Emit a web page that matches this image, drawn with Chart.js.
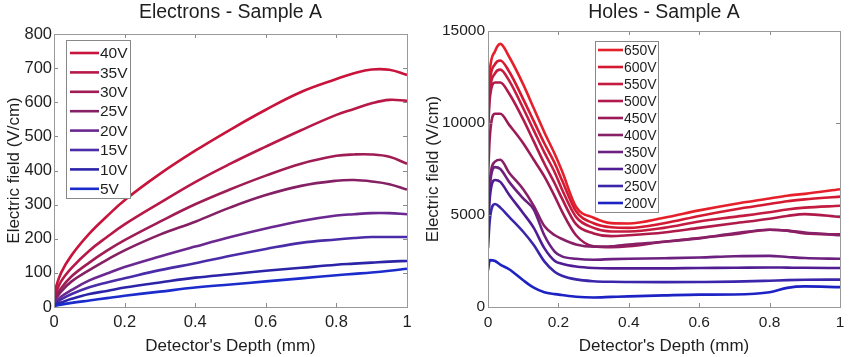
<!DOCTYPE html>
<html>
<head>
<meta charset="utf-8">
<script src="https://cdn.jsdelivr.net/npm/chart.js@4.4.1/dist/chart.umd.min.js"></script>
<style>
  html, body { margin: 0; padding: 0; background: #fff; }
  #wrap { position: relative; width: 850px; height: 357px; }
  .panel { position: absolute; top: 0; width: 425px; height: 357px; }
</style>
</head>
<body>
<div id="wrap">
  <div class="panel" style="left:0"><canvas id="c1" width="425" height="357"></canvas></div>
  <div class="panel" style="left:425px"><canvas id="c2" width="425" height="357"></canvas></div>
</div>
<script>
// ---------- Electrons - Sample A ----------
const elecTitle = "Electrons - Sample A";
const elecDepth = [0, 0.02, 0.05, 0.1, 0.15, 0.2, 0.3, 0.4, 0.5, 0.6, 0.7, 0.8, 0.85, 0.9, 0.95, 1.0];
const elecLabels = ["40V", "35V", "30V", "25V", "20V", "15V", "10V", "5V"];
const e40 = [40, 100, 152, 215, 266, 313, 390, 458, 520, 578, 630, 668, 685, 696, 695, 680];
const e35 = [28, 75, 115, 165, 205, 242, 305, 366, 420, 470, 518, 563, 580, 597, 607, 604];
const e30 = [22, 55, 90, 130, 165, 196, 250, 301, 345, 385, 420, 443, 447, 447, 440, 420];
const e25 = [16, 45, 75, 108, 138, 166, 212, 250, 292, 328, 355, 370, 372, 368, 360, 344];
const e20 = [10, 30, 50, 78, 98, 117, 148, 177, 205, 230, 252, 268, 272, 275, 275, 272];
const e15 = [8, 22, 38, 58, 72, 84, 108, 128, 150, 170, 188, 198, 202, 205, 205, 205];
const e10 = [5, 13, 24, 38, 47, 57, 72, 86, 96, 106, 115, 124, 127, 130, 133, 135];
const e5  = [3, 7, 12, 19, 26, 33, 45, 57, 66, 75, 84, 93, 97, 101, 106, 112];
const elecSeries = [e40, e35, e30, e25, e20, e15, e10, e5];
const elecColors = ["#c8143c", "#b81848", "#a01c55", "#862064", "#6a2890", "#4a2ca8", "#2c24a8", "#1c2ccc"];
const elecYTicks = [0, 100, 200, 300, 400, 500, 600, 700, 800];

// ---------- Holes - Sample A ----------
const holeTitle = "Holes - Sample A";
const holeDepth = [0, 0.005, 0.02, 0.035, 0.06, 0.1, 0.13, 0.16, 0.19, 0.21, 0.25, 0.3, 0.35, 0.4, 0.5, 0.6, 0.7, 0.8, 0.85, 0.9, 1.0];
const holeLabels = ["650V", "600V", "550V", "500V", "450V", "400V", "350V", "300V", "250V", "200V"];
const h650 = [11000, 12800, 13900, 14300, 13600, 12100, 10800, 9500, 8300, 7400, 5450, 4850, 4560, 4540, 4850, 5250, 5600, 5900, 6050, 6150, 6400];
const h600 = [10500, 12200, 13200, 13400, 12800, 11300, 10100, 8900, 7800, 6900, 5200, 4550, 4330, 4300, 4550, 4950, 5300, 5600, 5750, 5850, 6000];
const h550 = [10000, 11700, 12700, 12900, 12300, 10800, 9600, 8400, 7300, 6400, 4900, 4300, 4100, 4100, 4300, 4650, 4900, 5150, 5300, 5400, 5500];
const h500 = [9500, 11300, 12200, 12200, 11600, 10200, 9000, 7800, 6700, 5900, 4500, 4000, 3850, 3900, 4050, 4300, 4550, 4800, 4950, 5050, 4900];
const h450 = [7000, 9200, 10500, 10500, 9900, 8900, 8000, 7100, 6000, 5200, 3900, 3300, 3250, 3300, 3550, 3750, 3950, 4200, 4150, 4000, 3950];
const h400 = [5000, 6800, 7900, 8000, 7300, 6400, 5500, 4400, 3900, 3700, 3400, 3280, 3300, 3400, 3550, 3730, 4000, 4200, 4150, 4050, 3900];
const h350 = [4500, 6500, 7600, 7500, 6800, 5900, 5300, 3900, 3000, 2750, 2620, 2570, 2600, 2620, 2650, 2690, 2760, 2780, 2720, 2660, 2620];
const h300 = [4000, 5900, 6900, 6800, 6100, 5100, 4300, 3200, 2500, 2350, 2200, 2120, 2100, 2100, 2100, 2120, 2130, 2150, 2140, 2130, 2120];
const h250 = [3200, 4700, 5600, 5400, 4900, 4090, 3370, 2480, 1900, 1700, 1500, 1400, 1370, 1360, 1350, 1360, 1380, 1430, 1460, 1480, 1490];
const h200 = [2000, 2550, 2500, 2300, 2050, 1450, 1050, 800, 700, 650, 560, 520, 550, 580, 630, 670, 680, 800, 1040, 1120, 1080];
const holeSeries = [h650, h600, h550, h500, h450, h400, h350, h300, h250, h200];
const holeColors = ["#e6202a", "#d41a32", "#c41c40", "#b01a4a", "#9c1a58", "#882068", "#6c2080", "#501c94", "#3a26aa", "#1c22c4"];
const holeYTicks = [0, 5000, 10000, 15000];

const xTicks = [0, 0.2, 0.4, 0.6, 0.8, 1];
const xTitle = "Detector's Depth (mm)";
const yTitle = "Electric field (V/cm)";

const FONT = "Arial, 'Liberation Sans', Helvetica, sans-serif";
const TEXT = "#1e1e1e";

function makeDatasets(depth, series, labels, colors, smooth) {
  return series.map((vals, i) => Object.assign({
    label: labels[i],
    data: depth.map((d, j) => ({ x: d, y: vals[j] })),
    borderColor: colors[i],
    backgroundColor: colors[i],
    borderWidth: 2.6,
    pointRadius: 0,
    fill: false
  }, smooth)).reverse();
}

const framePlugin = {
  id: 'frame',
  afterDraw(chart, args, opts) {
    const { ctx, chartArea: a, scales } = chart;
    ctx.save();
    ctx.strokeStyle = '#8a8a8a';
    ctx.lineWidth = 1;
    const tl = 4;
    scales.x.ticks.forEach(t => {
      const px = Math.round(scales.x.getPixelForValue(t.value)) + 0.5;
      ctx.beginPath();
      ctx.moveTo(px, a.bottom); ctx.lineTo(px, a.bottom - tl);
      ctx.moveTo(px, a.top); ctx.lineTo(px, a.top + tl);
      ctx.stroke();
    });
    scales.y.ticks.forEach(t => {
      const py = Math.round(scales.y.getPixelForValue(t.value)) + 0.5;
      ctx.beginPath();
      ctx.moveTo(a.left, py); ctx.lineTo(a.left + tl, py);
      ctx.moveTo(a.right, py); ctx.lineTo(a.right - tl, py);
      ctx.stroke();
    });
    ctx.strokeStyle = '#999';
    ctx.strokeRect(Math.round(a.left) + 0.5, Math.round(a.top) + 0.5,
                   Math.round(a.right - a.left), Math.round(a.bottom - a.top));
    ctx.fillStyle = TEXT;
    ctx.font = opts.titleSize + 'px ' + FONT;
    ctx.textAlign = 'center';
    ctx.textBaseline = 'middle';
    ctx.fillText(opts.title, (a.left + a.right) / 2, opts.titleY);
    const L = opts.legend;
    ctx.fillStyle = '#fff';
    ctx.fillRect(L.x, L.y, L.w, L.h);
    ctx.strokeStyle = '#888';
    ctx.strokeRect(L.x + 0.5, L.y + 0.5, L.w, L.h);
    ctx.font = L.size + 'px ' + FONT;
    ctx.textAlign = 'left';
    ctx.textBaseline = 'middle';
    opts.labels.forEach((lab, i) => {
      const yy = L.y0 + i * L.dy;
      ctx.strokeStyle = opts.colors[i];
      ctx.lineWidth = 2.6;
      ctx.beginPath();
      ctx.moveTo(L.x + L.lx0, yy); ctx.lineTo(L.x + L.lx1, yy);
      ctx.stroke();
      ctx.fillStyle = TEXT;
      ctx.fillText(lab, L.x + L.tx, yy + 1);
    });
    ctx.restore();
  }
};

function build(id, cfg) {
  return new Chart(document.getElementById(id), {
    type: 'line',
    data: { datasets: makeDatasets(cfg.depth, cfg.series, cfg.labels, cfg.colors, cfg.smooth) },
    options: {
      responsive: false,
      animation: false,
      events: [],
      layout: { padding: cfg.padding },
      plugins: {
        legend: { display: false },
        tooltip: { enabled: false },
        title: { display: false },
        frame: {
          title: cfg.title, titleSize: 19.5, titleY: cfg.titleY,
          labels: cfg.labels, colors: cfg.colors, legend: cfg.legend
        }
      },
      scales: {
        x: {
          type: 'linear', min: 0, max: 1,
          grid: { display: false, drawTicks: false },
          border: { display: false },
          afterBuildTicks: s => { s.ticks = xTicks.map(v => ({ value: v })); },
          afterFit: s => { s.height = 50; s.paddingLeft = 0; s.paddingRight = 0; },
          ticks: {
            color: TEXT, padding: cfg.xTickPad, maxRotation: 0,
            font: { family: FONT, size: cfg.tickSize },
            callback: v => String(v)
          },
          title: {
            display: true, text: xTitle, color: TEXT,
            font: { family: FONT, size: 17, lineHeight: 1.2 },
            padding: { top: 0, bottom: 0 }
          }
        },
        y: {
          type: 'linear', min: cfg.yTicks[0], max: cfg.yTicks[cfg.yTicks.length - 1],
          grid: { display: false, drawTicks: false },
          border: { display: false },
          afterBuildTicks: s => { s.ticks = cfg.yTicks.map(v => ({ value: v })); },
          afterFit: s => { s.width = cfg.yWidth; s.paddingTop = 0; s.paddingBottom = 0; },
          ticks: {
            color: TEXT, padding: cfg.yTickPad,
            font: { family: FONT, size: cfg.tickSize },
            callback: v => String(v)
          },
          title: {
            display: true, text: yTitle, color: TEXT,
            font: { family: FONT, size: 17, lineHeight: 1 },
            padding: { top: cfg.yTitlePad, bottom: 0 }
          }
        }
      }
    },
    plugins: [framePlugin]
  });
}

build('c1', {
  depth: elecDepth, series: elecSeries, labels: elecLabels, colors: elecColors,
  smooth: { tension: 0.4 },
  yTicks: elecYTicks, title: elecTitle, titleY: 13,
  padding: { left: 0, right: 18, top: 34, bottom: 0 },
  yWidth: 54, yTickPad: 2, xTickPad: 6, tickSize: 16.5, yTitlePad: 5.5,
  legend: { x: 66, y: 40, w: 64, h: 158, y0: 53, dy: 19.4, lx0: 4, lx1: 33, tx: 34, size: 15.5 }
});

build('c2', {
  depth: holeDepth, series: holeSeries, labels: holeLabels, colors: holeColors,
  smooth: { cubicInterpolationMode: 'monotone' },
  yTicks: holeYTicks, title: holeTitle, titleY: 13,
  padding: { left: 0, right: 10, top: 31, bottom: 0 },
  yWidth: 63, yTickPad: 3, xTickPad: 6, tickSize: 15.5, yTitlePad: 0,
  legend: { x: 170, y: 41, w: 63, h: 171, y0: 50, dy: 17, lx0: 3, lx1: 28, tx: 29, size: 14 }
});
</script>
</body>
</html>
